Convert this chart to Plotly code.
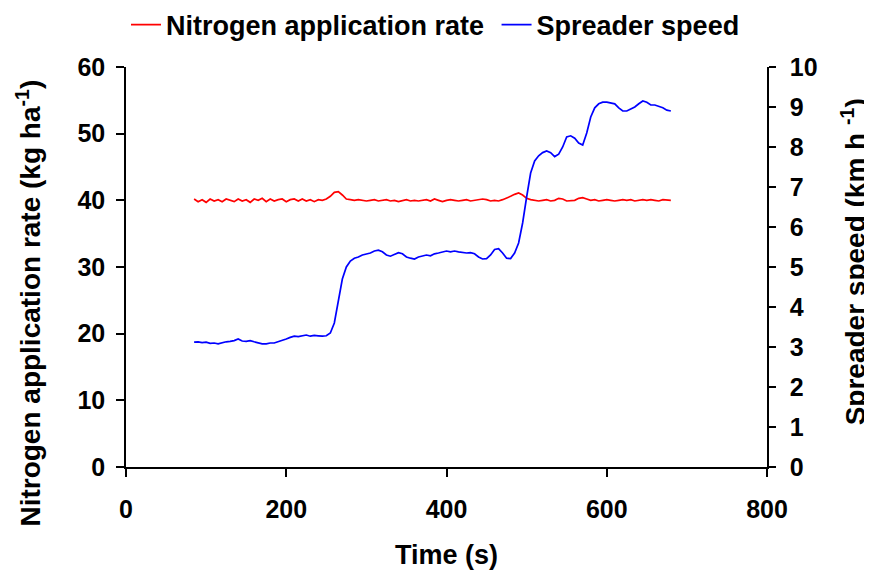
import plotly.graph_objects as go

time_s = [85, 90, 95, 100, 105, 110, 115, 120, 125, 130, 135, 140, 145, 150, 155, 160,
          165, 170, 175, 180, 185, 190, 195, 200, 205, 210, 215, 220, 225, 230, 235, 240,
          245, 250, 255, 260, 265, 270, 275, 280, 285, 290, 295, 300, 305, 310, 315, 320,
          325, 330, 335, 340, 345, 350, 355, 360, 365, 370, 375, 380, 385, 390, 395, 400,
          405, 410, 415, 420, 425, 430, 435, 440, 445, 450, 455, 460, 465, 470, 475, 480,
          485, 490, 495, 500, 505, 510, 515, 520, 525, 530, 535, 540, 545, 550, 555, 560,
          565, 570, 575, 580, 585, 590, 595, 600, 605, 610, 615, 620, 625, 630, 635, 640,
          645, 650, 655, 660, 665, 670, 675, 680]

nitrogen_rate = [40.2, 39.8, 40.1, 39.7, 40.2, 39.9, 40.1, 39.8, 40.2, 40.0, 39.8, 40.2,
                 39.9, 40.1, 39.7, 40.2, 40.0, 40.3, 39.8, 40.2, 39.9, 40.1, 40.2, 39.8,
                 40.1, 40.2, 39.9, 40.2, 39.9, 40.1, 39.8, 40.1, 40.0, 40.2, 40.6, 41.2,
                 41.3, 40.8, 40.2, 40.1, 40.0, 40.1, 40.0, 39.9, 40.0, 40.1, 39.9, 40.0,
                 40.1, 39.9, 40.0, 39.8, 40.0, 40.1, 39.9, 40.0, 39.9, 40.0, 40.1, 39.9,
                 40.2, 40.0, 39.8, 40.0, 40.1, 40.0, 39.9, 40.0, 40.1, 39.9, 40.0, 40.1,
                 40.2, 40.1, 39.9, 40.0, 39.9, 40.1, 40.3, 40.6, 40.9, 41.1, 40.8, 40.3,
                 40.1, 40.0, 39.9, 40.0, 40.1, 39.9, 40.0, 40.3, 40.2, 39.9, 39.9, 40.0,
                 40.3, 40.4, 40.2, 40.0, 40.1, 39.9, 40.0, 40.1, 40.0, 39.9, 40.0, 40.1,
                 40.0, 40.1, 39.9, 40.0, 40.1, 40.0, 40.1, 40.0, 39.9, 40.1, 40.0, 40.0]

spreader_speed = [3.12, 3.13, 3.11, 3.12, 3.09, 3.10, 3.08, 3.11, 3.13, 3.14, 3.16, 3.20,
                  3.15, 3.14, 3.16, 3.13, 3.11, 3.08, 3.08, 3.10, 3.10, 3.13, 3.17, 3.20,
                  3.24, 3.27, 3.26, 3.28, 3.30, 3.27, 3.29, 3.28, 3.27, 3.28, 3.35, 3.60,
                  4.20, 4.70, 5.00, 5.15, 5.22, 5.25, 5.30, 5.32, 5.35, 5.40, 5.42, 5.38,
                  5.30, 5.27, 5.32, 5.36, 5.33, 5.25, 5.22, 5.20, 5.25, 5.27, 5.30, 5.28,
                  5.33, 5.35, 5.37, 5.40, 5.38, 5.40, 5.38, 5.37, 5.35, 5.36, 5.33, 5.25,
                  5.20, 5.21, 5.30, 5.44, 5.46, 5.35, 5.22, 5.21, 5.35, 5.60, 6.10, 6.75,
                  7.35, 7.65, 7.78, 7.86, 7.90, 7.86, 7.76, 7.82, 8.00, 8.25, 8.28, 8.22,
                  8.10, 8.05, 8.35, 8.75, 8.98, 9.08, 9.12, 9.12, 9.10, 9.08, 8.98, 8.90,
                  8.90, 8.95, 9.00, 9.08, 9.15, 9.12, 9.05, 9.05, 9.02, 8.98, 8.92, 8.90]

FONT = "Liberation Sans, Arial, sans-serif"
titlefont = dict(family=FONT, size=28, color="black", weight=700)
xtitlefont = dict(family=FONT, size=27, color="black", weight=700)
legfont = dict(family=FONT, size=27, color="black", weight=700)
tickfont = dict(family=FONT, size=25, color="black", weight=700)

fig = go.Figure()
fig.add_trace(go.Scatter(x=time_s, y=nitrogen_rate, mode="lines",
                         name="Nitrogen application rate\u00a0",
                         line=dict(color="#ff0000", width=1.7)))
fig.add_trace(go.Scatter(x=time_s, y=spreader_speed, mode="lines",
                         name="Spreader speed", yaxis="y2",
                         line=dict(color="#0000ff", width=1.7)))

# page body has an 8px margin, so the figure is 8px smaller than the window
fig.update_layout(
    width=864, height=566,
    margin=dict(l=118, r=105, t=59, b=107),
    plot_bgcolor="white", paper_bgcolor="white",
    showlegend=True,
    legend=dict(orientation="h", x=0.0, xanchor="left", xref="paper",
                y=0.970, yanchor="middle", yref="container",
                font=legfont, itemwidth=30, bgcolor="rgba(0,0,0,0)"),
    xaxis=dict(range=[0, 800], tickvals=[0, 200, 400, 600, 800], showgrid=False,
               zeroline=False, showline=True, linecolor="black", linewidth=1.5,
               ticks="outside", ticklen=8, tickwidth=1.5, tickcolor="black",
               tickfont=tickfont, ticklabelstandoff=11, automargin=False,
               title=dict(text="Time (s)", font=xtitlefont, standoff=23)),
    yaxis=dict(range=[0, 60], tickvals=[0, 10, 20, 30, 40, 50, 60], showgrid=False,
               zeroline=False, showline=True, linecolor="black", linewidth=1.5,
               ticks="outside", ticklen=8, tickwidth=1.5, tickcolor="black",
               tickfont=tickfont, ticklabelstandoff=6, automargin=False),
    yaxis2=dict(range=[0, 10], tickvals=list(range(0, 11)), overlaying="y", side="right",
                anchor="x", showgrid=False, zeroline=False, showline=True,
                linecolor="black", linewidth=1.5, ticks="outside", ticklen=7,
                tickwidth=1.5, tickcolor="black", tickfont=tickfont,
                ticklabelstandoff=9, automargin=False),
    yaxis3=dict(range=[0, 10], tickvals=list(range(0, 11)), overlaying="y", side="right",
                anchor="x", showgrid=False, zeroline=False, showline=False,
                ticks="inside", ticklen=7, tickwidth=1.5, tickcolor="black",
                showticklabels=False, automargin=False),
    annotations=[
        dict(text="Nitrogen application rate (kg ha<sup>-1</sup>)", textangle=-90,
             xref="paper", yref="paper", x=-0.152, y=0.41, xanchor="center",
             yanchor="middle", showarrow=False, font=titlefont),
        dict(text="Spreader speed (km h <sup>-1</sup>)", textangle=-90,
             xref="paper", yref="paper", x=1.135, y=0.513, xanchor="center",
             yanchor="middle", showarrow=False, font=titlefont),
    ],
)

fig.write_html("out.html")
